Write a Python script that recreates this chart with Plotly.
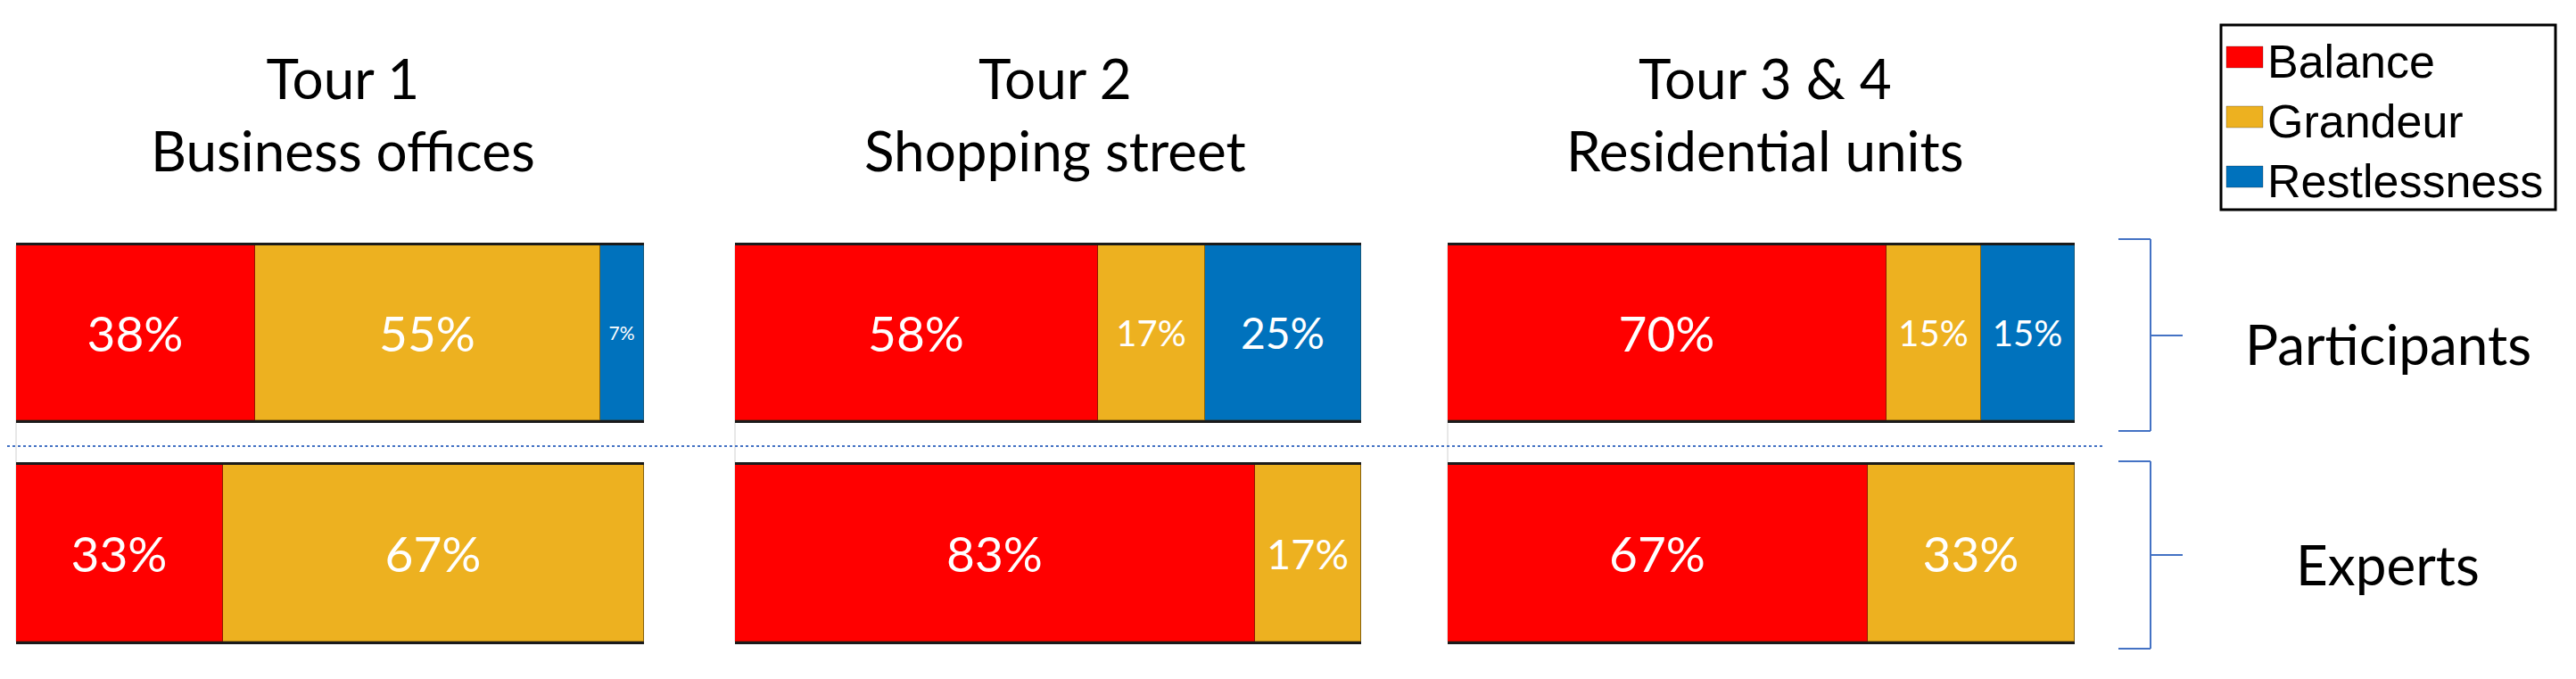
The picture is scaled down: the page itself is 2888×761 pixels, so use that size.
import plotly.graph_objects as go
from plotly.subplots import make_subplots

# ---- data ----
tours = ["Tour 1<br>Business offices", "Tour 2<br>Shopping street", "Tour 3 & 4<br>Residential units"]
groups = ["Participants", "Experts"]
series = ["Balance", "Grandeur", "Restlessness"]
colors = ["#FF0000", "#EDB120", "#0072BD"]

participants_balance = [38, 58, 70]
participants_grandeur = [55, 17, 15]
participants_restless = [7, 25, 15]
experts_balance = [33, 83, 67]
experts_grandeur = [67, 17, 33]
experts_restless = [0, 0, 0]

values = {
    "Participants": [participants_balance, participants_grandeur, participants_restless],
    "Experts": [experts_balance, experts_grandeur, experts_restless],
}

# label font sizes per (group, series, tour) to mimic reference's fitted labels
label_sizes = {
    "Participants": [[55, 55, 55], [55, 40, 40], [21, 48, 40]],
    "Experts": [[55, 55, 55], [55, 47, 55], [55, 55, 55]],
}

# page body has an 8px default margin; compensate so pixel targets line up
PAGE_W, PAGE_H = 2888, 761
OFF = 8
W, H = PAGE_W - 2 * OFF, PAGE_H - 2 * OFF
col_px = [(18, 722), (824, 1526), (1623, 2326)]
row_px = [(275, 471), (521, 719)]


def px_x(v):
    return (v - OFF) / W


def px_y(v):
    return 1 - (v - OFF) / H


fig = make_subplots(rows=2, cols=3)

for r, g in enumerate(groups):
    for c in range(3):
        for s, name in enumerate(series):
            v = values[g][s][c]
            fig.add_trace(
                go.Bar(
                    x=[v], y=[g], orientation="h", name=name,
                    marker=dict(color=colors[s], line=dict(width=1, color="rgba(60,40,0,0.35)")),
                    text=[f"{v}%" if v > 0 else ""],
                    textposition="inside", insidetextanchor="middle",
                    textfont=dict(family="Lato", size=label_sizes[g][s][c], color="white"),
                    showlegend=False, hoverinfo="skip",
                ),
                row=r + 1, col=c + 1,
            )

fig.update_layout(
    width=W, height=H, margin=dict(l=0, r=0, t=0, b=0),
    barmode="stack", bargap=0,
    plot_bgcolor="white", paper_bgcolor="white",
    font=dict(family="Lato", color="black"),
)

for r in range(2):
    for c in range(3):
        idx = r * 3 + c + 1
        xa = "xaxis" if idx == 1 else f"xaxis{idx}"
        ya = "yaxis" if idx == 1 else f"yaxis{idx}"
        fig.layout[xa].update(
            domain=[px_x(col_px[c][0]), px_x(col_px[c][1])], range=[0, 100],
            showticklabels=False, showgrid=False, zeroline=False,
            showline=True, mirror=True, linecolor="#1a1a1a", linewidth=3, ticks="",
        )
        fig.layout[ya].update(
            domain=[px_y(row_px[r][1]), px_y(row_px[r][0])], range=[-0.5, 0.5],
            showticklabels=False, showgrid=False, zeroline=False, showline=False, ticks="",
        )

shapes = []
# light grey left edge lines spanning both rows
for c in range(3):
    shapes.append(dict(type="line", xref="paper", yref="paper",
                       x0=px_x(col_px[c][0]), x1=px_x(col_px[c][0]),
                       y0=px_y(row_px[1][1]), y1=px_y(row_px[0][0]),
                       line=dict(color="#d0d0d0", width=1), layer="below"))
# dotted separator
shapes.append(dict(type="line", xref="paper", yref="paper",
                   x0=px_x(8), x1=px_x(2360), y0=px_y(500), y1=px_y(500),
                   line=dict(color="#4472C4", width=2, dash="dot")))
# brackets
for (top, mid, bot) in [(268, 376, 483), (517, 622, 727)]:
    pts = [((2375, top), (2411, top)), ((2411, top), (2411, bot)), ((2375, bot), (2411, bot)),
           ((2411, mid), (2447, mid))]
    for (xa_, ya_), (xb_, yb_) in pts:
        shapes.append(dict(type="line", xref="paper", yref="paper",
                           x0=px_x(xa_), x1=px_x(xb_), y0=px_y(ya_), y1=px_y(yb_),
                           line=dict(color="#4472C4", width=2)))
# legend box
shapes.append(dict(type="rect", xref="paper", yref="paper",
                   x0=px_x(2490), x1=px_x(2865), y0=px_y(235), y1=px_y(28),
                   line=dict(color="black", width=3)))
leg_y = [64, 131, 198]
for s in range(3):
    shapes.append(dict(type="rect", xref="paper", yref="paper",
                       x0=px_x(2496), x1=px_x(2537), y0=px_y(leg_y[s] + 12), y1=px_y(leg_y[s] - 12),
                       fillcolor=colors[s], line=dict(color="rgba(0,0,0,0.25)", width=1)))

annotations = []
title_x = [385, 1183, 1979]
for c in range(3):
    annotations.append(dict(text=tours[c], xref="paper", yref="paper",
                            x=px_x(title_x[c]), y=px_y(127), xanchor="center", yanchor="middle",
                            showarrow=False, font=dict(family="Lato", size=62, color="black")))
for s in range(3):
    annotations.append(dict(text=series[s], xref="paper", yref="paper",
                            x=px_x(2540), y=px_y(leg_y[s] + 5), xanchor="left", yanchor="middle",
                            showarrow=False, font=dict(family="Liberation Sans", size=52, color="black")))
for r, g in enumerate(groups):
    annotations.append(dict(text=g, xref="paper", yref="paper",
                            x=px_x(2677), y=px_y([385, 632][r]), xanchor="center", yanchor="middle",
                            showarrow=False, font=dict(family="Lato", size=62, color="black")))

fig.update_layout(shapes=shapes, annotations=annotations)
fig.write_html("out.html")
